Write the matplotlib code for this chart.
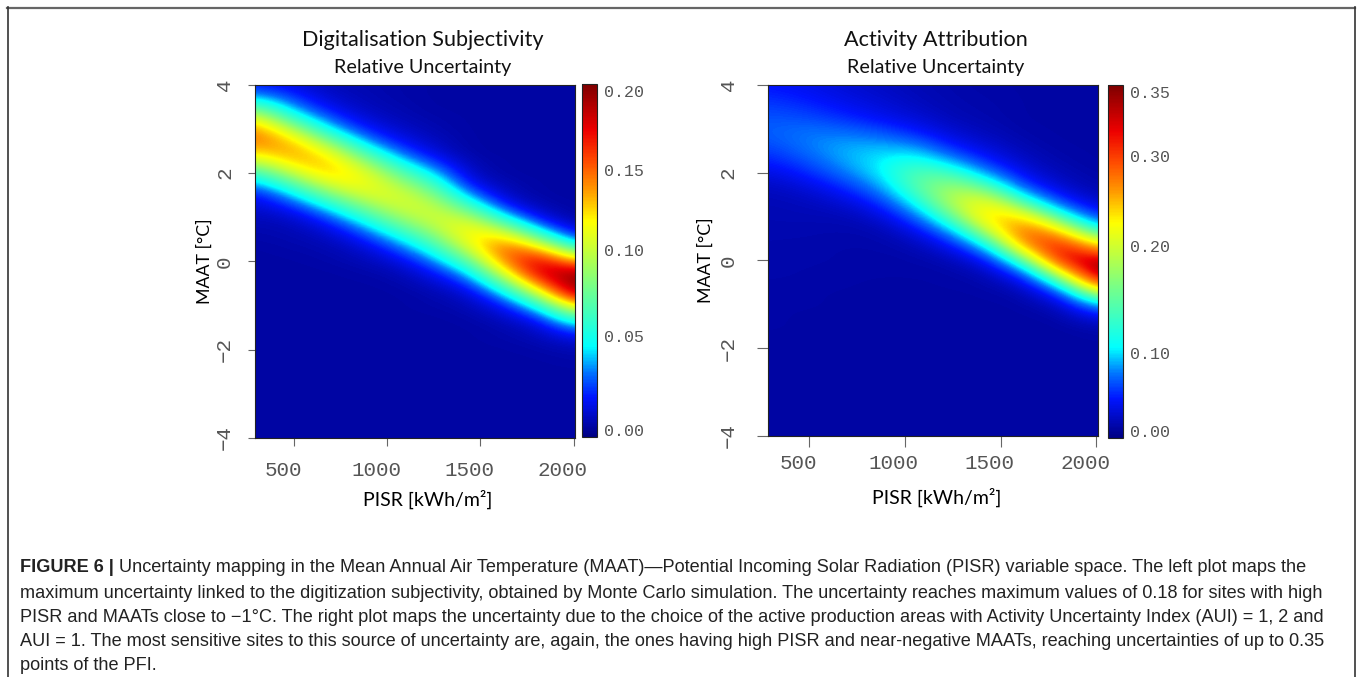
import numpy as np
import matplotlib
matplotlib.use("Agg")
import matplotlib.pyplot as plt
import matplotlib.transforms as mtransforms
from matplotlib.colors import LinearSegmentedColormap, FuncNorm
from matplotlib.lines import Line2D

# grid nodes
pisr = [300, 490, 680, 870, 1060, 1250, 1440, 1630, 1820, 2010]
maat = [4.00, 3.75, 3.50, 3.25, 3.00, 2.75, 2.50, 2.25, 2.00, 1.75, 1.50,
        1.25, 1.00, 0.75, 0.50, 0.25, 0.00, -0.25, -0.50, -0.75, -1.00,
        -1.25, -1.50, -1.75, -2.00, -2.25, -2.50, -2.75, -3.00, -3.25,
        -3.50, -3.75, -4.00]

# left map: one list per PISR node, MAAT from +4 down to -4
digit_unc = [
    [0.018, 0.034, 0.068, 0.108, 0.138, 0.145, 0.128, 0.097, 0.061, 0.034, 0.016,
     0.010, 0.006, 0.004, 0.003, 0.002, 0.002, 0.002, 0.002, 0.002, 0.002, 0.002,
     0.002, 0.002, 0.002, 0.002, 0.002, 0.002, 0.002, 0.002, 0.002, 0.002, 0.002],
    [0.012, 0.020, 0.032, 0.055, 0.092, 0.125, 0.138, 0.128, 0.101, 0.068, 0.039,
     0.020, 0.009, 0.005, 0.004, 0.003, 0.002, 0.002, 0.002, 0.002, 0.002, 0.002,
     0.002, 0.002, 0.002, 0.002, 0.002, 0.002, 0.002, 0.002, 0.002, 0.002, 0.002],
    [0.006, 0.008, 0.014, 0.025, 0.043, 0.076, 0.110, 0.130, 0.129, 0.108, 0.077,
     0.047, 0.025, 0.012, 0.006, 0.004, 0.003, 0.002, 0.002, 0.002, 0.002, 0.002,
     0.002, 0.002, 0.002, 0.002, 0.002, 0.002, 0.002, 0.002, 0.002, 0.002, 0.002],
    [0.004, 0.005, 0.006, 0.010, 0.018, 0.033, 0.059, 0.089, 0.112, 0.118, 0.106,
     0.082, 0.055, 0.032, 0.017, 0.008, 0.005, 0.003, 0.002, 0.002, 0.002, 0.002,
     0.002, 0.002, 0.002, 0.002, 0.002, 0.002, 0.002, 0.002, 0.002, 0.002, 0.002],
    [0.003, 0.003, 0.004, 0.005, 0.008, 0.014, 0.026, 0.046, 0.071, 0.093, 0.107,
     0.105, 0.089, 0.065, 0.041, 0.023, 0.011, 0.005, 0.003, 0.002, 0.002, 0.002,
     0.002, 0.002, 0.002, 0.002, 0.002, 0.002, 0.002, 0.002, 0.002, 0.002, 0.002],
    [0.002, 0.002, 0.002, 0.003, 0.004, 0.006, 0.010, 0.021, 0.039, 0.061, 0.083,
     0.100, 0.105, 0.095, 0.074, 0.051, 0.031, 0.016, 0.008, 0.004, 0.003, 0.002,
     0.002, 0.002, 0.002, 0.002, 0.002, 0.002, 0.002, 0.002, 0.002, 0.002, 0.002],
    [0.002, 0.002, 0.002, 0.002, 0.002, 0.002, 0.002, 0.004, 0.007, 0.014, 0.033,
     0.062, 0.096, 0.119, 0.120, 0.100, 0.070, 0.041, 0.021, 0.009, 0.005, 0.003,
     0.002, 0.002, 0.002, 0.002, 0.002, 0.002, 0.002, 0.002, 0.002, 0.002, 0.002],
    [0.002, 0.002, 0.002, 0.002, 0.002, 0.002, 0.002, 0.002, 0.002, 0.004, 0.007,
     0.018, 0.045, 0.088, 0.132, 0.155, 0.144, 0.111, 0.071, 0.038, 0.017, 0.008,
     0.004, 0.003, 0.002, 0.002, 0.002, 0.002, 0.002, 0.002, 0.002, 0.002, 0.002],
    [0.002, 0.002, 0.002, 0.002, 0.002, 0.002, 0.002, 0.002, 0.002, 0.002, 0.002,
     0.004, 0.012, 0.035, 0.078, 0.137, 0.181, 0.185, 0.150, 0.099, 0.053, 0.023,
     0.009, 0.005, 0.003, 0.002, 0.002, 0.002, 0.002, 0.002, 0.002, 0.002, 0.002],
    [0.002, 0.002, 0.002, 0.002, 0.002, 0.002, 0.002, 0.002, 0.002, 0.002, 0.002,
     0.002, 0.002, 0.008, 0.025, 0.067, 0.130, 0.190, 0.206, 0.186, 0.128, 0.073,
     0.034, 0.013, 0.005, 0.003, 0.002, 0.002, 0.002, 0.002, 0.002, 0.002, 0.002],
]

# right map, same layout
activ_unc = [
    [0.040, 0.048, 0.056, 0.062, 0.065, 0.062, 0.053, 0.042, 0.030, 0.019, 0.014,
     0.012, 0.011, 0.010, 0.009, 0.009, 0.008, 0.008, 0.007, 0.007, 0.006, 0.006,
     0.006, 0.005, 0.005, 0.005, 0.005, 0.004, 0.004, 0.004, 0.004, 0.004, 0.004],
    [0.035, 0.040, 0.050, 0.060, 0.071, 0.075, 0.071, 0.060, 0.046, 0.031, 0.019,
     0.014, 0.012, 0.010, 0.009, 0.008, 0.008, 0.007, 0.007, 0.006, 0.006, 0.005,
     0.005, 0.005, 0.005, 0.004, 0.004, 0.004, 0.004, 0.004, 0.004, 0.004, 0.004],
    [0.025, 0.030, 0.038, 0.050, 0.067, 0.081, 0.088, 0.084, 0.072, 0.053, 0.035,
     0.020, 0.012, 0.009, 0.008, 0.007, 0.007, 0.006, 0.006, 0.005, 0.005, 0.005,
     0.005, 0.004, 0.004, 0.004, 0.004, 0.004, 0.004, 0.004, 0.004, 0.004, 0.004],
    [0.018, 0.022, 0.028, 0.037, 0.057, 0.078, 0.095, 0.104, 0.102, 0.087, 0.065,
     0.042, 0.024, 0.012, 0.008, 0.007, 0.006, 0.006, 0.005, 0.005, 0.005, 0.004,
     0.004, 0.004, 0.004, 0.004, 0.004, 0.004, 0.004, 0.004, 0.004, 0.004, 0.004],
    [0.012, 0.014, 0.018, 0.026, 0.039, 0.065, 0.096, 0.125, 0.145, 0.149, 0.133,
     0.102, 0.068, 0.039, 0.019, 0.010, 0.007, 0.006, 0.005, 0.005, 0.004, 0.004,
     0.004, 0.004, 0.004, 0.004, 0.004, 0.004, 0.004, 0.004, 0.004, 0.004, 0.004],
    [0.008, 0.009, 0.010, 0.013, 0.020, 0.032, 0.055, 0.093, 0.136, 0.173, 0.194,
     0.187, 0.153, 0.104, 0.060, 0.029, 0.012, 0.007, 0.006, 0.005, 0.004, 0.004,
     0.004, 0.004, 0.004, 0.004, 0.004, 0.004, 0.004, 0.004, 0.004, 0.004, 0.004],
    [0.006, 0.007, 0.008, 0.009, 0.012, 0.018, 0.028, 0.046, 0.081, 0.132, 0.189,
     0.231, 0.245, 0.215, 0.154, 0.089, 0.042, 0.016, 0.008, 0.006, 0.005, 0.004,
     0.004, 0.004, 0.004, 0.004, 0.004, 0.004, 0.004, 0.004, 0.004, 0.004, 0.004],
    [0.005, 0.005, 0.005, 0.005, 0.006, 0.008, 0.012, 0.018, 0.028, 0.050, 0.096,
     0.161, 0.232, 0.283, 0.292, 0.240, 0.154, 0.077, 0.030, 0.010, 0.006, 0.005,
     0.004, 0.004, 0.004, 0.004, 0.004, 0.004, 0.004, 0.004, 0.004, 0.004, 0.004],
    [0.005, 0.005, 0.005, 0.005, 0.005, 0.005, 0.006, 0.008, 0.012, 0.018, 0.035,
     0.072, 0.135, 0.212, 0.287, 0.332, 0.318, 0.235, 0.136, 0.061, 0.021, 0.008,
     0.005, 0.004, 0.004, 0.004, 0.004, 0.004, 0.004, 0.004, 0.004, 0.004, 0.004],
    [0.005, 0.005, 0.005, 0.005, 0.005, 0.005, 0.005, 0.005, 0.006, 0.008, 0.012,
     0.024, 0.051, 0.103, 0.178, 0.264, 0.335, 0.356, 0.305, 0.201, 0.103, 0.042,
     0.013, 0.006, 0.005, 0.004, 0.004, 0.004, 0.004, 0.004, 0.004, 0.004, 0.004],
]

# colour-key labels and where they sit along the key (fraction of its height)
digit_ticks = [0.00, 0.05, 0.10, 0.15, 0.20]
digit_tick_pos = [0.019, 0.286, 0.529, 0.756, 0.981]
activ_ticks = [0.00, 0.10, 0.20, 0.30, 0.35]
activ_tick_pos = [0.019, 0.241, 0.543, 0.800, 0.979]

titles = ["Digitalisation Subjectivity", "Activity Attribution"]
subtitle = "Relative Uncertainty"
x_ticks = [500, 1000, 1500, 2000]
y_ticks = [4, 2, 0, -2, -4]

caption_head = "FIGURE 6 |"
caption_lines = [
    " Uncertainty mapping in the Mean Annual Air Temperature (MAAT)\u2014Potential Incoming Solar Radiation (PISR) variable space. The left plot maps the",
    "maximum uncertainty linked to the digitization subjectivity, obtained by Monte Carlo simulation. The uncertainty reaches maximum values of 0.18 for sites with high",
    "PISR and MAATs close to \u22121\u00b0C. The right plot maps the uncertainty due to the choice of the active production areas with Activity Uncertainty Index (AUI) = 1, 2 and",
    "AUI = 1. The most sensitive sites to this source of uncertainty are, again, the ones having high PISR and near-negative MAATs, reaching uncertainties of up to 0.35",
    "points of the PFI.",
]

W, H = 1360, 677
fig = plt.figure(figsize=(W / 100, H / 100), dpi=100)


def box(x0, y0, x1, y1):
    return [x0 / W, 1 - y1 / H, (x1 - x0) / W, (y1 - y0) / H]


def fx(px):
    return px / W


def fy(py):
    return 1 - py / H


# jet-like palette as printed on the keys
cmap = LinearSegmentedColormap.from_list("key", [
    (0.00, (0.00, 0.00, 0.52)),
    (0.11, (0.00, 0.08, 1.00)),
    (0.18, (0.00, 0.45, 1.00)),
    (0.255, (0.00, 1.00, 1.00)),
    (0.42, (0.45, 1.00, 0.55)),
    (0.52, (0.75, 1.00, 0.25)),
    (0.61, (1.00, 1.00, 0.00)),
    (0.70, (1.00, 0.60, 0.00)),
    (0.78, (1.00, 0.30, 0.00)),
    (0.87, (0.93, 0.00, 0.00)),
    (1.00, (0.50, 0.00, 0.00)),
])


def key_norm(ticks, pos):
    lo = ticks[0] - pos[0] * (ticks[1] - ticks[0]) / (pos[1] - pos[0])
    hi = ticks[-1] + (1 - pos[-1]) * (ticks[-1] - ticks[-2]) / (pos[-1] - pos[-2])
    xs = np.r_[lo, ticks, hi]
    fs = np.r_[0.0, pos, 1.0]
    return FuncNorm((lambda v: np.interp(v, xs, fs),
                     lambda f: np.interp(f, fs, xs)), vmin=lo, vmax=hi)


mono = "Liberation Mono"
sans = "Lato"
grey = "#555555"

panels = [
    dict(data=digit_unc, ticks=digit_ticks, pos=digit_tick_pos,
         ax=box(255, 85, 575, 438), cax=box(581.7, 84, 596.7, 436.7),
         title_x=422.5, ytick_len=5, ytick_pad=10, xtick_len=6, xtick_pad=10.5,
         ylab_x=-0.158, xlab_x=0.54),
    dict(data=activ_unc, ticks=activ_ticks, pos=activ_tick_pos,
         ax=box(768.3, 85, 1098, 435.7), cax=box(1108.3, 85, 1123.3, 438),
         title_x=935.5, ytick_len=8, ytick_pad=14, xtick_len=8, xtick_pad=5,
         ylab_x=-0.19, xlab_x=0.51),
]

dx = (pisr[1] - pisr[0]) / 2
dy = (maat[0] - maat[1]) / 2

for i, p in enumerate(panels):
    ax = fig.add_axes(p["ax"])
    grid = np.array(p["data"]).T
    norm = key_norm(p["ticks"], p["pos"])
    im = ax.imshow(grid, cmap=cmap, norm=norm, aspect="auto", origin="upper",
                   extent=[pisr[0] - dx, pisr[-1] + dx, maat[-1] - dy, maat[0] + dy],
                   interpolation="bicubic", interpolation_stage="data")
    ax.set_xlim(288, 2008)
    ax.set_ylim(-4, 4)
    for s in ax.spines.values():
        s.set_linewidth(0.8)
        s.set_color("#222222")

    ax.set_xticks(x_ticks)
    ax.set_xticklabels([str(v) for v in x_ticks], family=mono, fontsize=15, color=grey)
    ax.set_yticks(y_ticks)
    ax.set_yticklabels([str(v).replace("-", "\u2212") for v in y_ticks],
                       family=mono, fontsize=15, color=grey, rotation=90, va="center")
    ax.tick_params(axis="x", length=p["xtick_len"], pad=p["xtick_pad"], color="#666666", width=0.8)
    ax.tick_params(axis="y", length=p["ytick_len"], pad=p["ytick_pad"], color="#666666", width=0.8)
    shift = mtransforms.ScaledTranslation(-11 / 100, 0, fig.dpi_scale_trans)
    for lab in ax.get_xticklabels():
        lab.set_transform(lab.get_transform() + shift)

    ax.set_ylabel("MAAT [\u00b0C]", family=sans, fontsize=12.8, va="center")
    ax.yaxis.set_label_coords(p["ylab_x"], 0.5)
    ax.set_xlabel("PISR [kWh/m\u00b2]", family=sans, fontsize=14, va="center")
    ax.xaxis.set_label_coords(p["xlab_x"], -0.175)

    cax = fig.add_axes(p["cax"])
    cb = fig.colorbar(im, cax=cax)
    cb.set_ticks(p["ticks"], labels=["%.2f" % v for v in p["ticks"]])
    cax.tick_params(length=0, pad=5, labelsize=12, labelcolor=grey)
    for lab in cax.get_yticklabels():
        lab.set_family(mono)
    cb.outline.set_linewidth(0.8)
    cb.outline.set_edgecolor("#222222")

    fig.text(fx(p["title_x"]), fy(40), titles[i], ha="center", va="center",
             family=sans, fontsize=15.6, color="#111111")
    fig.text(fx(p["title_x"] + 0.5), fy(67), subtitle, ha="center", va="center",
             family=sans, fontsize=14.2, color="#111111")

# frame around the figure
fig.add_artist(Line2D([fx(7), fx(1355)], [fy(7.5), fy(7.5)], color="#666666", lw=1.6))
fig.add_artist(Line2D([fx(7.5), fx(7.5)], [fy(7), fy(677)], color="#333333", lw=1.2))
fig.add_artist(Line2D([fx(1355), fx(1355)], [fy(7), fy(677)], color="#333333", lw=1.2))

# caption
cap_font = dict(family="Liberation Sans", fontsize=13.1, color="#222222", va="center")
line_y = [568, 593, 617, 641, 665]
renderer = fig.canvas.get_renderer()
head = fig.text(fx(20), fy(line_y[0]), caption_head, fontweight="bold", **cap_font)
head_w = head.get_window_extent(renderer).width
fig.text(fx(20 + head_w), fy(line_y[0]), caption_lines[0], **cap_font)
for ly, txt in zip(line_y[1:], caption_lines[1:]):
    fig.text(fx(20), fy(ly), txt, **cap_font)

fig.savefig("out.png", dpi=100)
